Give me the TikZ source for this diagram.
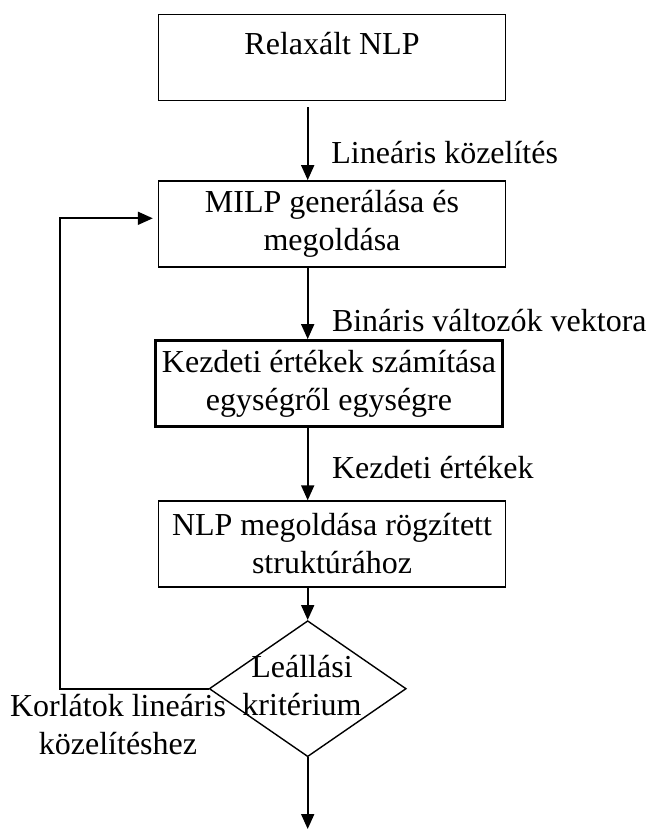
\documentclass[tikz,border=0pt]{standalone}
\usepackage{fontspec}
\setmainfont{Liberation Serif}
\usetikzlibrary{arrows.meta,shapes.geometric}

\begin{document}
\begin{tikzpicture}[x=0.5pt,y=-0.5pt,
  every node/.style={font=\fontsize{16pt}{19pt}\selectfont},
  box node/.style={rectangle,draw,line width=0.7pt,minimum width=173.5pt,minimum height=43pt,inner sep=0pt,align=center},
  decision node/.style={diamond,draw,line width=0.7pt,minimum width=98.5pt,minimum height=68pt,inner sep=0pt},
  label node/.style={inner sep=0pt,align=center},
  flow/.style={line width=0.9pt,-{Triangle[length=7.5pt,width=6.5pt]}}]

  \useasboundingbox (0,0) rectangle (648,829);

  \node[box node,text height=11pt,text depth=13.5pt] (n0) at (332,57.4) {Relaxált NLP};
  \node[box node] (n1) at (332,223.8) {MILP generálása és\\megoldása};
  \node[box node,line width=1.4pt] (n2) at (329,383.5) {Kezdeti értékek számítása\\egységről egységre};
  \node[box node] (n3) at (332,544) {NLP megoldása rögzített\\struktúrához};
  \node[decision node] (n4) at (307.7,688.7) {};
  \node[label node] (t4) at (302,686) {Leállási\\kritérium};

  \node[label node,anchor=base west] (l0) at (331,163) {Lineáris közelítés};
  \node[label node,anchor=base west] (l1) at (331.6,331) {Bináris változók vektora};
  \node[label node,anchor=base west] (l2) at (331.6,478) {Kezdeti értékek};
  \node[label node] (l3) at (118,725) {Korlátok lineáris\\közelítéshez};

  \coordinate (c0) at (60,218.3);
  \coordinate (c1) at (307.7,829);

  \path[flow]
  (n0.south -| n4.center) edge[shorten <=3pt] (n1.north -| n4.center)
  (n1.south -| n4.center) edge (n2.north -| n4.center)
  (n2.south -| n4.center) edge (n3.north -| n4.center)
  (n3.south -| n4.center) edge (n4.north)
  (n4.south) edge (c1);
  \draw[flow,shorten >=2.5pt] (n4.west) -| (c0) -- (n1.west |- c0);
\end{tikzpicture}
\end{document}
